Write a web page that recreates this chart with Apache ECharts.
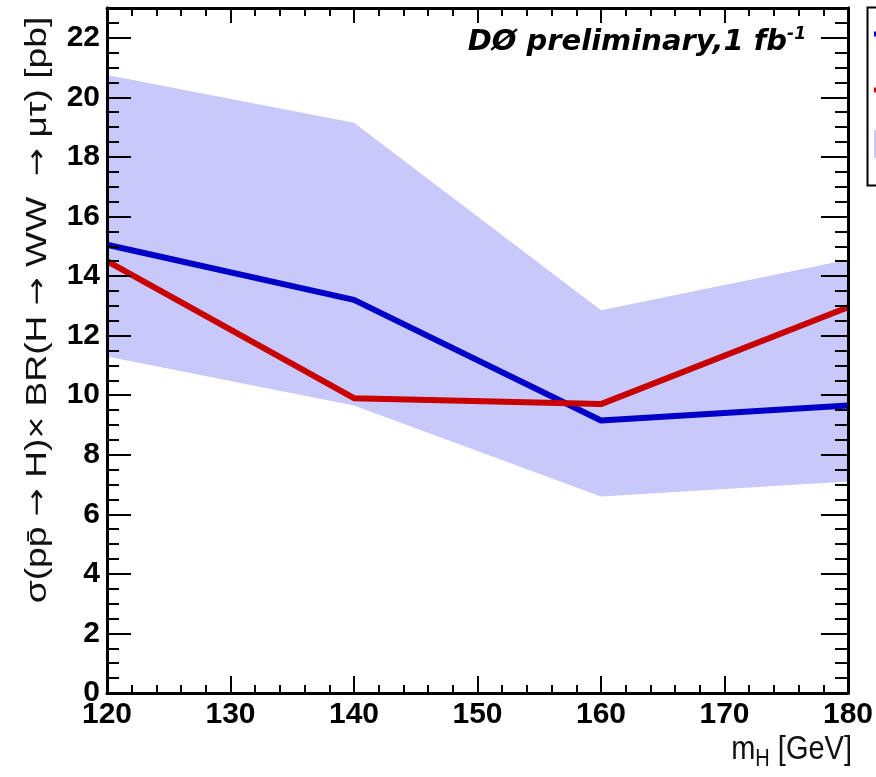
<!DOCTYPE html>
<html>
<head>
<meta charset="utf-8">
<script src="https://cdn.jsdelivr.net/npm/echarts@6/dist/echarts.min.js"></script>
<style>
html,body{margin:0;padding:0;background:#fff;}
#chart{width:876px;height:777px;}
</style>
</head>
<body>
<div id="chart"></div>
<script>
// ---- data ----
const massPoints = [120, 140, 160, 180];
const expectedLimit = [15.05, 13.2, 9.15, 9.65];
const observedLimit = [14.5, 9.9, 9.7, 12.95];
const bandLow = [11.3, 9.65, 6.6, 7.1];
const bandHigh = [20.75, 19.15, 12.85, 14.55];
const xTicks = [120, 130, 140, 150, 160, 170, 180];
const yTicks = [0, 2, 4, 6, 8, 10, 12, 14, 16, 18, 20, 22];

const chart = echarts.init(document.getElementById('chart'));
const black = '#000';
const labelFont = { fontFamily: 'Liberation Sans', fontWeight: 'bold', fontSize: 30, color: black };

function xAx(pos, tickLen, minorLen, labels) {
  return {
    type: 'value', position: pos, min: 120, max: 180, interval: 10, z: 5,
    axisLine: { show: true, onZero: false, lineStyle: { color: black, width: 3 } },
    axisTick: { show: true, inside: true, length: tickLen, lineStyle: { color: black, width: 2 } },
    minorTick: { show: true, splitNumber: 5, length: minorLen, lineStyle: { color: black, width: 2 } },
    axisLabel: labels ? Object.assign({ show: true, margin: 7 }, labelFont) : { show: false },
    splitLine: { show: false }, minorSplitLine: { show: false }
  };
}
function yAx(pos, interval, tickLen, labels) {
  return {
    type: 'value', position: pos, min: 0, max: 23, interval: interval, z: 5,
    axisLine: { show: true, onZero: false, lineStyle: { color: black, width: 3 } },
    axisTick: { show: true, inside: true, length: tickLen, lineStyle: { color: black, width: 2 } },
    axisLabel: labels ? Object.assign({ show: true, margin: 7, showMaxLabel: false, padding: [6, 0, 0, 0] }, labelFont) : { show: false },
    splitLine: { show: false }
  };
}

const arrowStyle = { fontFamily: 'DejaVu Sans', fontSize: 27, fill: '#111' };
const titleStyle = { fontFamily: 'Liberation Sans', fontSize: 30, fill: '#111' };

const option = {
  backgroundColor: '#fff',
  animation: false,
  grid: { left: 107, right: 24, top: 8, bottom: 84, containLabel: false },
  xAxis: [xAx('bottom', 17, 8, true), xAx('top', 15, 8, false)],
  yAxis: [yAx('left', 2, 24, true), yAx('left', 0.5, 12, false), yAx('right', 2, 27, false), yAx('right', 0.5, 13, false)],
  legend: [
    { data: ['Expected limit', 'Observed limit'], orient: 'vertical', left: 874, top: 24, padding: 0,
      itemGap: 36, itemWidth: 30, itemHeight: 5, icon: 'rect', textStyle: { fontSize: 20 } },
    { data: ['\u00b11\u03c3'], orient: 'vertical', left: 874, top: 130, padding: 0,
      itemWidth: 30, itemHeight: 28, icon: 'rect', textStyle: { fontSize: 20 } }
  ],
  graphic: [
    { type: 'rect', left: 865, top: 5, z: 20, silent: true,
      shape: { x: 0, y: 0, width: 60, height: 178 }, style: { fill: 'none', stroke: black, lineWidth: 2 } },
    { type: 'text', z: 20, silent: true,
      style: { x: 806, y: 42, align: 'right', verticalAlign: 'middle',
        text: '{a|D\u00d8 preliminary,1 fb}{s|-1}',
        rich: {
          a: { fontFamily: 'DejaVu Sans', fontStyle: 'italic', fontWeight: 'bold', fontSize: 29, fill: black },
          s: { fontFamily: 'DejaVu Sans', fontStyle: 'italic', fontWeight: 'bold', fontSize: 17, fill: black, padding: [0, 0, 14, 0] }
        } } },
    { type: 'text', z: 20, silent: true, x: 38, y: 310, rotation: Math.PI / 2, scaleX: 1.24,
      style: { x: 0, y: 0, align: 'center', verticalAlign: 'middle',
        text: '{t|\u03c3(pp\u0304 }{r|\u2192}{t| H)\u00d7 BR(H }{r|\u2192}{t| WW  }{r|\u2192}{t| \u03bc\u03c4) [pb]}',
        rich: { t: titleStyle, r: arrowStyle } } },
    { type: 'text', z: 20, silent: true, x: 852, y: 750, scaleY: 1.15,
      style: { x: 0, y: 0, align: 'right', verticalAlign: 'middle',
        text: '{m|m}{h|H}{m| [GeV]}',
        rich: {
          m: { fontFamily: 'Liberation Sans', fontSize: 29, fill: '#111' },
          h: { fontFamily: 'Liberation Sans', fontSize: 20, fill: '#111', padding: [16, 0, 0, 0] }
        } } }
  ],
  series: [
    {
      name: '\u00b11\u03c3', type: 'custom', xAxisIndex: 0, yAxisIndex: 0, z: 1,
      itemStyle: { color: '#c8c8fa' },
      data: [0],
      renderItem: function (params, api) {
        const pts = [];
        for (let i = 0; i < massPoints.length; i++) pts.push(api.coord([massPoints[i], bandHigh[i]]));
        for (let i = massPoints.length - 1; i >= 0; i--) pts.push(api.coord([massPoints[i], bandLow[i]]));
        return { type: 'polygon', shape: { points: pts }, style: { fill: '#c8c8fa' } };
      }
    },
    {
      name: 'Expected limit', type: 'line', xAxisIndex: 0, yAxisIndex: 0, z: 3,
      showSymbol: false, color: '#0000c8',
      lineStyle: { color: '#0000c8', width: 6 },
      data: massPoints.map((m, i) => [m, expectedLimit[i]])
    },
    {
      name: 'Observed limit', type: 'line', xAxisIndex: 0, yAxisIndex: 0, z: 3,
      showSymbol: false, color: '#c80000',
      lineStyle: { color: '#c80000', width: 6 },
      data: massPoints.map((m, i) => [m, observedLimit[i]])
    }
  ]
};
chart.setOption(option);
</script>
</body>
</html>
